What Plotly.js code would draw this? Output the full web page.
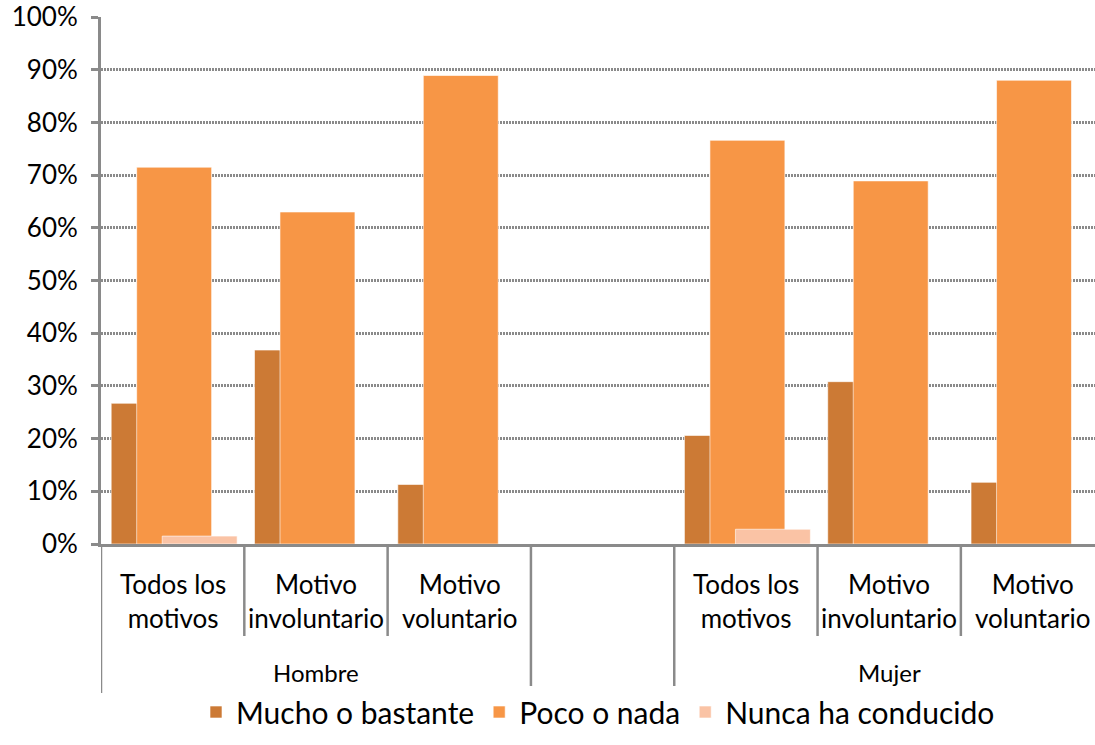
<!DOCTYPE html>
<html>
<head>
<meta charset="utf-8">
<script src="https://cdn.plot.ly/plotly-3.0.1.min.js"></script>
<style>
  html, body { margin: 0; padding: 0; background: #fff; }
  #myDiv { width: 1095px; height: 745px; }
</style>
</head>
<body>
<div id="myDiv"></div>
<script>
// categories: 3 per group, one empty slot between groups
var groups = ['Hombre', 'Mujer'];
var subcats = ['Todos los<br>motivos', 'Motivo<br>involuntario', 'Motivo<br>voluntario'];
var slots = ['H1', 'H2', 'H3', 'gap', 'M1', 'M2', 'M3'];
var dataSlots = ['H1', 'H2', 'H3', 'M1', 'M2', 'M3'];

var mucho = [0.267, 0.368, 0.113, 0.206, 0.308, 0.117];
var poco  = [0.715, 0.630, 0.889, 0.766, 0.689, 0.880];
var nunca = [0.015, null, null, 0.028, null, null];

var grey = '#8a8a8a';
var font = 'Lato, "Open Sans", sans-serif';
var plotH = 745 - 17 - 201;

var barW = 0.523;
var edge = 'rgba(255,255,255,0.6)';

var trace1 = {
  x: dataSlots, y: mucho, name: 'Mucho o bastante', type: 'bar',
  width: barW, offset: -0.429,
  marker: {color: '#CC7A35', line: {color: edge, width: 1}},
  hoverinfo: 'y'
};
var trace2 = {
  x: dataSlots, y: poco, name: 'Poco o nada', type: 'bar',
  width: barW, offset: -0.251,
  marker: {color: '#F79646', line: {color: edge, width: 1}},
  hoverinfo: 'y'
};
var trace3 = {
  x: dataSlots, y: nunca, name: 'Nunca ha conducido', type: 'bar',
  width: barW, offset: -0.073,
  marker: {color: '#FAC3A5', line: {color: edge, width: 1}},
  hoverinfo: 'y'
};

// separators under the axis
var shapes = [];
for (var i = 0; i < slots.length; i++) {
  var b = i - 0.5;
  var longLine = (i == 0 || slots[i] == 'gap' || slots[i - 1] == 'gap');
  shapes.push({
    type: 'line', xref: 'x', yref: 'paper',
    x0: b, x1: b, y0: 0, y1: longLine ? -149 / plotH : -92 / plotH,
    line: {color: grey, width: 2.5}
  });
}

var annotations = [];
var k = 0;
for (var i = 0; i < slots.length; i++) {
  if (slots[i] == 'gap') continue;
  annotations.push({
    x: i, y: -57 / plotH, xref: 'x', yref: 'paper',
    text: subcats[k % 3], showarrow: false,
    font: {family: font, size: 26, color: '#000'},
    xanchor: 'center', yanchor: 'middle', align: 'center'
  });
  k++;
}
annotations.push({
  x: 1, y: -128 / plotH, xref: 'x', yref: 'paper', text: groups[0], showarrow: false,
  font: {family: font, size: 24, color: '#000'}, xanchor: 'center', yanchor: 'middle'
});
annotations.push({
  x: 5, y: -128 / plotH, xref: 'x', yref: 'paper', text: groups[1], showarrow: false,
  font: {family: font, size: 24, color: '#000'}, xanchor: 'center', yanchor: 'middle'
});

var layout = {
  width: 1095, height: 745,
  margin: {l: 101, r: 0, t: 17, b: 201},
  paper_bgcolor: '#fff', plot_bgcolor: '#fff',
  barmode: 'overlay',
  font: {family: font, color: '#000'},
  xaxis: {
    type: 'category', categoryorder: 'array', categoryarray: slots,
    range: [-0.5, 6.436], showticklabels: false, ticks: '',
    showgrid: false, zeroline: false,
    showline: true, linecolor: grey, linewidth: 3
  },
  yaxis: {
    range: [0, 1], dtick: 0.1, tickformat: '.0%',
    tickfont: {family: font, size: 26, color: '#000'},
    ticks: 'outside', ticklen: 7, tickwidth: 2.5, tickcolor: grey,
    ticklabelstandoff: 8,
    showgrid: true, gridcolor: grey, gridwidth: 3, griddash: '2px,1px',
    zeroline: false, showline: true, linecolor: grey, linewidth: 3
  },
  showlegend: true,
  legend: {
    orientation: 'h', x: 0.5, xanchor: 'center', xref: 'paper',
    y: -168 / plotH, yanchor: 'middle',
    font: {family: font, size: 30, color: '#000'}
  },
  shapes: shapes,
  annotations: annotations
};

Plotly.newPlot('myDiv', [trace1, trace2, trace3], layout, {displayModeBar: false});
</script>
</body>
</html>
